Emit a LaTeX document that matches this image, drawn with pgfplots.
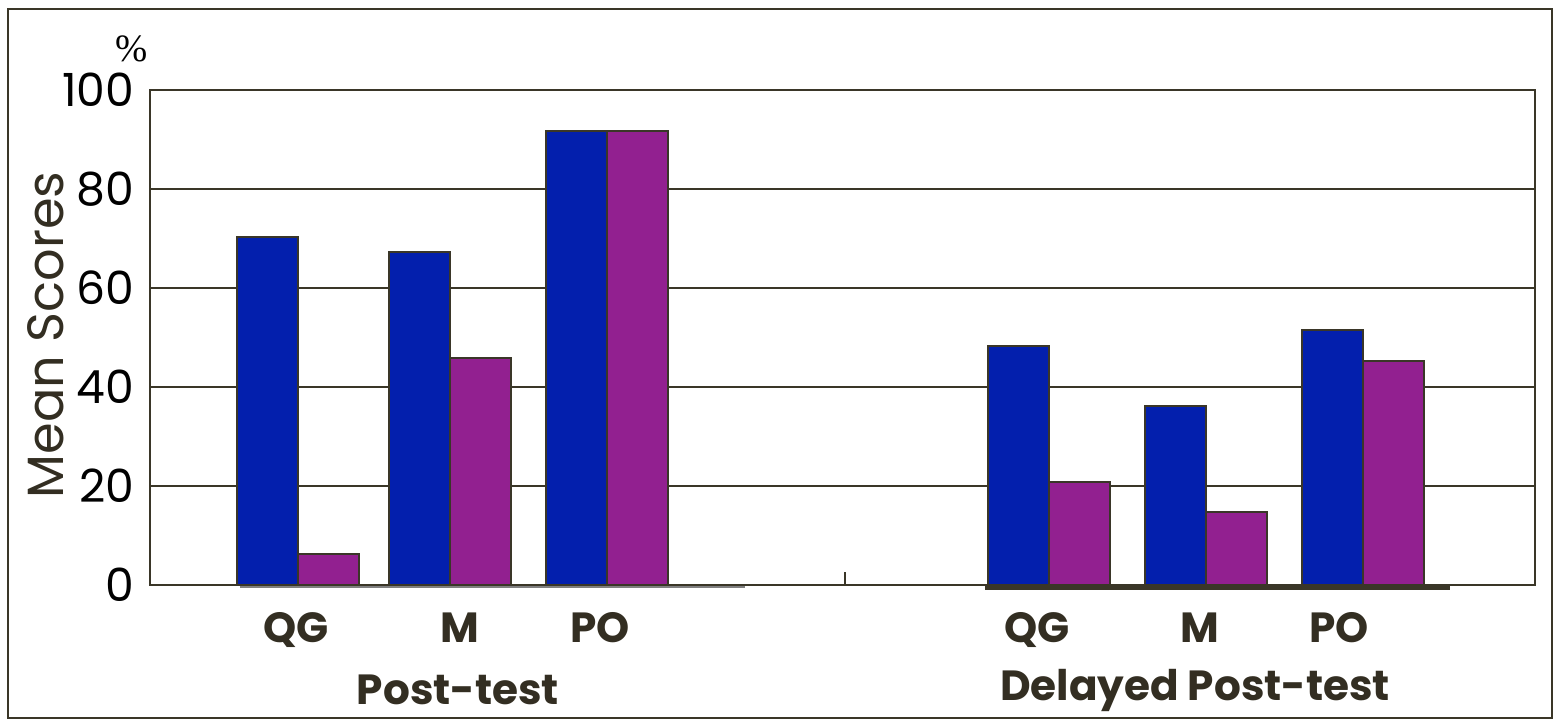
\documentclass[border=0pt]{standalone}
\usepackage{fontspec}
\setmainfont{Poppins}
\newfontfamily\pctfont{Liberation Serif}
\usepackage{pgfplots}
\pgfplotsset{compat=1.18}
\definecolor{barblue}{HTML}{031FAD}
\definecolor{barpurple}{HTML}{922090}
\definecolor{edge}{HTML}{3A3628}
\definecolor{txt}{HTML}{332E22}

\begin{document}
\begin{tikzpicture}
\begin{axis}[
  at={(0,0)}, anchor=south west,
  scale only axis, width=138.5mm, height=49.5mm,
  xmin=150, xmax=1535, ymin=0, ymax=100,
  ybar, bar width=61,
  ytick={0,20,...,100},
  xtick={296,460,600,1037,1200,1339},
  xticklabels={QG,M,PO,QG,M,PO},
  major tick length=0pt,
  ymajorgrids, grid style={edge, line width=0.35pt},
  axis line style={edge, line width=0.45pt},
  /pgf/number format/assume math mode=true,
  yticklabel style={font=\fontsize{13}{13}\selectfont, inner sep=0pt, xshift=-1.5mm},
  xticklabel style={font=\bfseries\fontsize{12}{12}\selectfont, text=txt, inner sep=0pt, anchor=north, yshift=-2.7mm},
  clip=false,
]
% Blue series
\addplot[fill=barblue, draw=edge, line width=0.5pt, bar shift=-30.5] coordinates {
  (298,70.3) (450,67.3) (607,91.7) (1049,48.3) (1206,36.2) (1363,51.5)};
% Purple series
\addplot[fill=barpurple, draw=edge, line width=0.5pt, bar shift=30.5] coordinates {
  (298,6.3) (450,45.9) (607,91.7) (1049,20.8) (1206,14.7) (1363,45.3)};
% leftover strokes along the baseline
\draw[gray, line width=0.6pt] (axis cs:240,-0.4) -- (axis cs:745,-0.4);
\draw[edge, line width=1.2pt] (axis cs:985,-0.6) -- (axis cs:1450,-0.6);
\draw[edge, line width=0.35pt] (axis cs:845,0) -- (axis cs:845,2.6);
\end{axis}
% outer frame
\draw[edge, line width=0.5pt] (-14.2mm,-13.3mm) rectangle (140.2mm,57.6mm);
% labels
\node[rotate=90, font=\fontsize{14.5}{14.5}\selectfont, text=txt] at (-10.4mm,25mm) {Mean Scores};
\node[font=\pctfont\fontsize{11}{11}\selectfont] at (-1.8mm,53.6mm) {\%};
\node[font=\bfseries\fontsize{12}{12}\selectfont, text=txt] at (30.8mm,-10.5mm) {Post-test};
\node[font=\bfseries\fontsize{12}{12}\selectfont, text=txt] at (104.5mm,-10.5mm) {Delayed Post-test};
\pgfresetboundingbox
\path[use as bounding box] (-15mm,-13.7mm) rectangle (140.8mm,58.5mm);
\end{tikzpicture}
\end{document}
